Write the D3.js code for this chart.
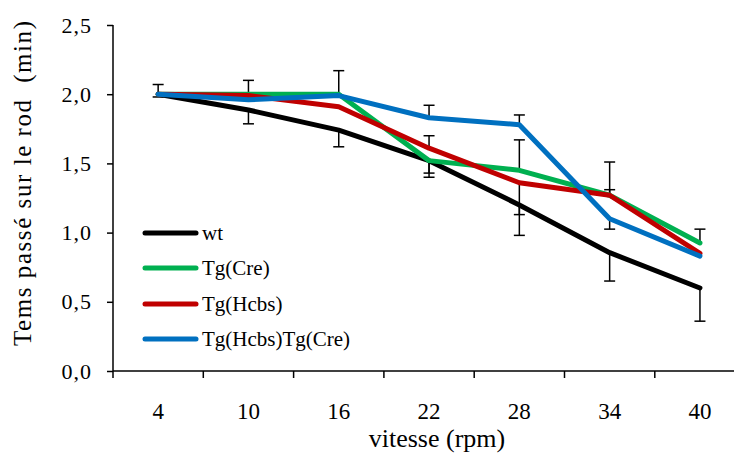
<!DOCTYPE html>
<html>
<head>
<meta charset="utf-8">
<script src="https://cdn.jsdelivr.net/npm/d3@7"></script>
<style>
  html, body { margin: 0; padding: 0; background: #fff; }
  svg { display: block; }
  svg text { font-family: "Liberation Serif", "Times New Roman", Tinos, "DejaVu Serif", serif !important; }
</style>
</head>
<body>
<svg id="chart" width="734" height="456"></svg>
<script>
// ---- data ----
const categories = ["4", "10", "16", "22", "28", "34", "40"];
const yTicks = [0, 0.5, 1.0, 1.5, 2.0, 2.5];
const seriesNames = ["wt", "Tg(Cre)", "Tg(Hcbs)", "Tg(Hcbs)Tg(Cre)"];
const seriesColors = ["#000000", "#00b050", "#c00000", "#0070c0"];
const wtValues    = [2.00, 1.886, 1.74, 1.52, 1.20, 0.855, 0.60];
const creValues   = [2.00, 2.00, 2.00, 1.52, 1.45, 1.27, 0.925];
const hcbsValues  = [2.00, 1.99, 1.91, 1.61, 1.36, 1.27, 0.85];
const bothValues  = [2.00, 1.96, 1.99, 1.83, 1.78, 1.10, 0.83];
const wtErrPlus    = [0, 0, 0, 0, 0, 0, 0];
const wtErrMinus   = [0.02, 0.10, 0.12, 0.12, 0.22, 0.205, 0.24];
const creErrPlus   = [0.07, 0.10, 0.17, 0, 0.22, 0.24, 0.10];
const creErrMinus  = [0, 0, 0, 0.09, 0, 0, 0];
const hcbsErrPlus  = [0, 0, 0, 0.09, 0, 0.04, 0];
const hcbsErrMinus = [0, 0, 0, 0, 0.23, 0, 0];
const bothErrPlus  = [0, 0, 0, 0.09, 0.07, 0, 0];
const bothErrMinus = [0, 0, 0, 0, 0, 0.075, 0];
const xTitle = "vitesse (rpm)";
const yTitle = "Tems passé sur le rod  (min)";

const series = [
  {name: seriesNames[0], color: seriesColors[0], values: wtValues,   plus: wtErrPlus,   minus: wtErrMinus},
  {name: seriesNames[1], color: seriesColors[1], values: creValues,  plus: creErrPlus,  minus: creErrMinus},
  {name: seriesNames[2], color: seriesColors[2], values: hcbsValues, plus: hcbsErrPlus, minus: hcbsErrMinus},
  {name: seriesNames[3], color: seriesColors[3], values: bothValues, plus: bothErrPlus, minus: bothErrMinus}
];

// ---- layout ----
const svg = d3.select("#chart");
const mLeft = 113, mTop = 25, mBottom = 371;
const band = 90.3;
const x = d3.scaleBand().domain(categories).range([mLeft, mLeft + band * categories.length]).padding(0);
const y = d3.scaleLinear().domain([0, 2.5]).range([mBottom, mTop]);
const cx = d => x(d) + x.bandwidth() / 2;

// error bars (behind lines)
const eb = svg.append("g");
series.forEach(s => {
  categories.forEach((c, i) => {
    const v = s.values[i];
    [[s.plus[i], 1], [s.minus[i], -1]].forEach(([e, dir]) => {
      if (!e) return;
      const y0 = y(v), y1 = y(v + dir * e);
      eb.append("line").attr("x1", cx(c)).attr("x2", cx(c)).attr("y1", y0).attr("y2", y1)
        .attr("stroke", "#000").attr("stroke-width", 1.5);
      eb.append("line").attr("x1", cx(c) - 5.5).attr("x2", cx(c) + 5.5).attr("y1", y1).attr("y2", y1)
        .attr("stroke", "#000").attr("stroke-width", 1.5);
    });
  });
});

// lines
const line = d3.line().x((d, i) => cx(categories[i])).y(d => y(d));
series.forEach(s => {
  svg.append("path").datum(s.values).attr("d", line)
    .attr("fill", "none").attr("stroke", s.color).attr("stroke-width", 5)
    .attr("stroke-linejoin", "round").attr("stroke-linecap", "round");
});

// y axis
const yAxis = d3.axisLeft(y).tickValues(yTicks).tickSize(6).tickPadding(15)
  .tickFormat(d => d3.format(".1f")(d).replace(".", ","));
const gy = svg.append("g").attr("transform", `translate(${mLeft},0)`).call(yAxis);
gy.select(".domain").attr("d", `M0,${mTop}V${mBottom + 7}`).attr("stroke", "#000").attr("stroke-width", 1.5);
gy.selectAll(".tick line").attr("stroke", "#000").attr("stroke-width", 1.5);
gy.selectAll(".tick text").attr("font-size", 22).attr("fill", "#000").attr("letter-spacing", 1);

// x axis
const xAxis = d3.axisBottom(x).tickSize(0).tickPadding(30);
const gx = svg.append("g").attr("transform", `translate(0,${mBottom})`).call(xAxis);
gx.select(".domain").attr("d", `M${mLeft},0H734`).attr("stroke", "#000").attr("stroke-width", 1.5);
gx.selectAll(".tick text").attr("font-size", 23).attr("fill", "#000").attr("dy", "0.78em");
// boundary ticks
gx.selectAll(".bound").data(categories.slice(1)).enter().append("line")
  .attr("x1", d => x(d)).attr("x2", d => x(d)).attr("y1", 0).attr("y2", 7)
  .attr("stroke", "#000").attr("stroke-width", 1.5);

// titles
svg.append("text").attr("x", 437).attr("y", 447).attr("text-anchor", "middle")
  .attr("font-size", 26).attr("fill", "#000").text(xTitle);
svg.append("text").attr("transform", "translate(31,183.5) rotate(-90)").attr("text-anchor", "middle")
  .attr("font-size", 25).attr("fill", "#000").style("white-space", "pre")
  .attr("textLength", 325).attr("lengthAdjust", "spacing").text(yTitle);

// legend
const legY = [233, 268, 304, 339];
const lg = svg.append("g");
series.forEach((s, i) => {
  lg.append("line").attr("x1", 145).attr("x2", 196).attr("y1", legY[i]).attr("y2", legY[i])
    .attr("stroke", s.color).attr("stroke-width", 5).attr("stroke-linecap", "round");
  lg.append("text").attr("x", 202).attr("y", legY[i] + 7).attr("font-size", 21)
    .attr("fill", "#000").text(s.name);
});
</script>
</body>
</html>
